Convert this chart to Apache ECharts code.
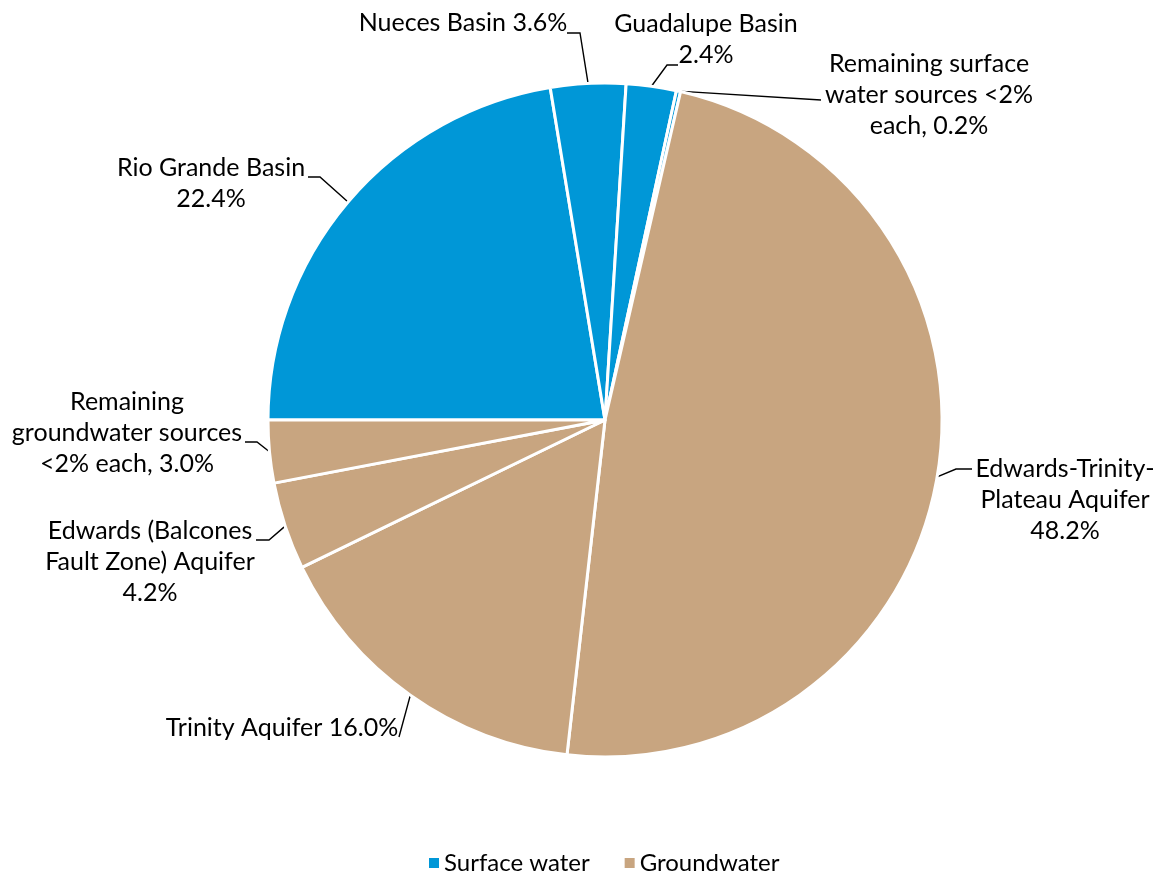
<!DOCTYPE html>
<html>
<head>
<meta charset="utf-8">
<script src="https://cdn.jsdelivr.net/npm/echarts@6/dist/echarts.min.js"></script>
<style>
  html, body { margin: 0; background: #fff; }
  #chart { width: 1161px; height: 875px; }
</style>
</head>
<body>
<div id="chart"></div>
<script>
// slices, clockwise from 9 o'clock
const sources = [
  'Rio Grande Basin',
  'Nueces Basin',
  'Guadalupe Basin',
  'Remaining surface water sources <2% each',
  'Edwards-Trinity-Plateau Aquifer',
  'Trinity Aquifer',
  'Edwards (Balcones Fault Zone) Aquifer',
  'Remaining groundwater sources <2% each'
];
const shares = [22.4, 3.6, 2.4, 0.2, 48.2, 16.0, 4.2, 3.0];
const sourceType = [0, 0, 0, 0, 1, 1, 1, 1];
const typeNames = ['Surface water', 'Groundwater'];
const typeColors = ['#0097d7', '#c8a580'];

// label text with the original line breaks, {v} gets the share
const labelText = [
  'Rio Grande Basin\n{v}',
  'Nueces Basin {v}',
  'Guadalupe Basin\n{v}',
  'Remaining surface\nwater sources <2%\neach, {v}',
  'Edwards-Trinity-\nPlateau Aquifer\n{v}',
  'Trinity Aquifer {v}',
  'Edwards (Balcones\nFault Zone) Aquifer\n{v}',
  'Remaining\ngroundwater sources\n<2% each, {v}'
];

// label placement: centre x, centre y, leader end x, leader end y, horizontal stub
const labelSpot = [
  [211, 183, 308, 177, 12],
  [463, 23, 567, 33, 13],
  [706, 39, 678, 65, -11],
  [929, 95, 821, 100, 0],
  [1065, 500, 972, 469, -16],
  [282, 728, 399, 737, 0],
  [150, 562, 256, 540, 13],
  [127, 433, 245, 442, 12]
];

const fontFamily = 'Lato, "Open Sans", sans-serif';

let myChart = echarts.init(document.getElementById('chart'));

let option = {
  animation: false,
  legend: {
    data: typeNames,
    top: 846,
    left: 424,
    icon: 'rect',
    itemWidth: 10,
    itemHeight: 10,
    itemGap: 35,
    textStyle: { fontFamily: fontFamily, fontSize: 24, color: '#000' }
  },
  series: [
    {
      type: 'pie',
      center: [605, 420],
      radius: 337,
      startAngle: 180,
      clockwise: true,
      avoidLabelOverlap: false,
      itemStyle: { borderColor: '#fff', borderWidth: 3 },
      label: {
        show: true,
        position: 'outside',
        color: '#000',
        fontFamily: fontFamily,
        fontSize: 25,
        lineHeight: 31,
        align: 'center',
        formatter: function (p) {
          return labelText[p.dataIndex].replace('{v}', p.value.toFixed(1) + '%');
        }
      },
      labelLine: {
        show: true,
        length: 10,
        length2: 10,
        lineStyle: { color: '#000', width: 1.4 }
      },
      labelLayout: function (p) {
        const s = labelSpot[p.dataIndex];
        const edge = p.labelLinePoints ? p.labelLinePoints[0] : [s[2], s[3]];
        return {
          x: s[0],
          y: s[1],
          align: 'center',
          verticalAlign: 'middle',
          labelLinePoints: [edge, [s[2] + s[4], s[3]], [s[2], s[3]]]
        };
      },
      data: sources.map(function (name, i) {
        return { name: name, value: shares[i], itemStyle: { color: typeColors[sourceType[i]] } };
      })
    },
    {
      // only feeds the legend
      type: 'pie',
      radius: [0, 0],
      silent: true,
      stillShowZeroSum: false,
      label: { show: false },
      labelLine: { show: false },
      data: typeNames.map(function (name, i) {
        return { name: name, value: 0, itemStyle: { color: typeColors[i] } };
      })
    }
  ]
};

myChart.setOption(option);
window.addEventListener('resize', function () {
  myChart.resize();
});
</script>
</body>
</html>
